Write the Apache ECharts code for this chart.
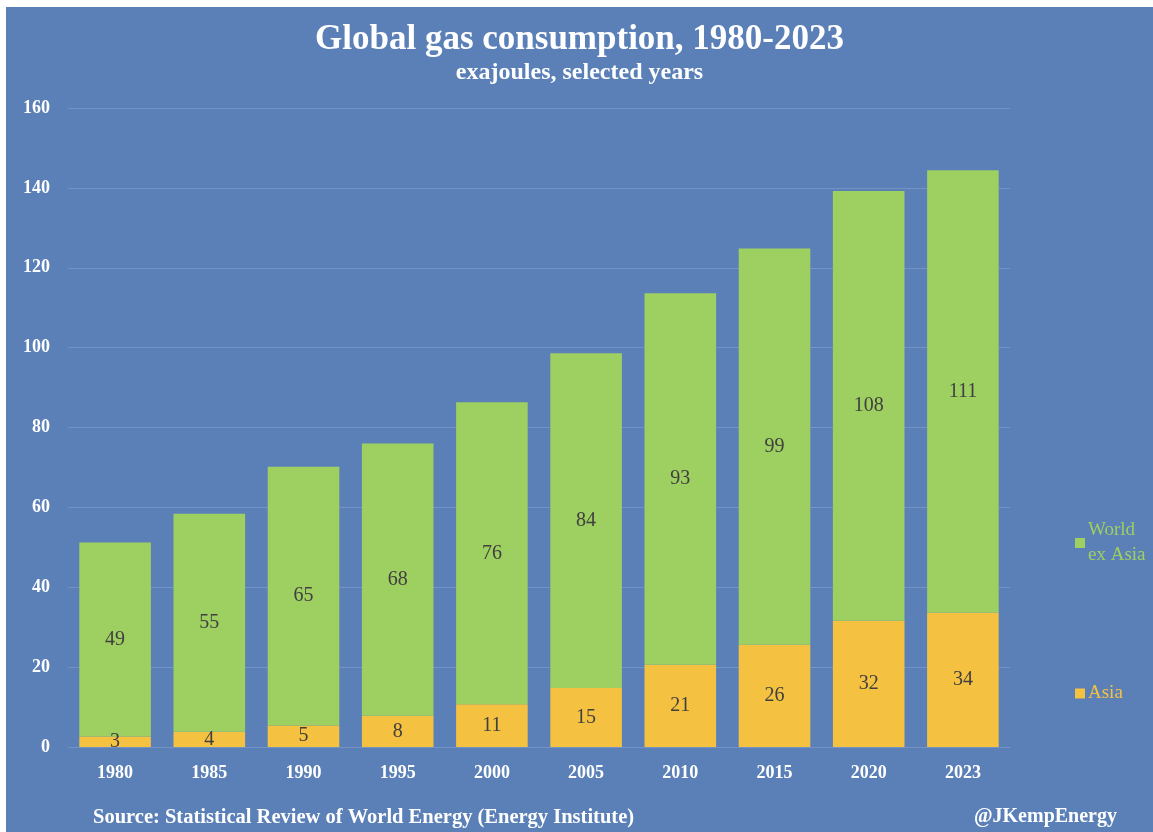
<!DOCTYPE html>
<html>
<head>
<meta charset="utf-8">
<script src="https://cdn.jsdelivr.net/npm/echarts@6/dist/echarts.min.js"></script>
<style>
  html, body { margin: 0; padding: 0; background: #ffffff; }
  #main { position: absolute; left: 6px; top: 7px; width: 1147px; height: 825px; }
</style>
</head>
<body>
<div id="main"></div>
<script>
var years = ['1980', '1985', '1990', '1995', '2000', '2005', '2010', '2015', '2020', '2023']
// exajoules
var asia = [2.6, 3.8, 5.4, 7.8, 10.7, 14.8, 20.6, 25.6, 31.6, 33.6]
var worldExAsia = [48.6, 54.6, 64.8, 68.2, 75.6, 83.8, 93.0, 99.2, 107.6, 110.8]

var serif = '"Liberation Serif", "DejaVu Serif", serif'
var bg = '#5b80b8'
var green = '#9ecf61'
var orange = '#f5c141'

var myChart = echarts.init(document.getElementById('main'))

var labelStyle = {
  show: true,
  position: 'inside',
  color: '#404040',
  fontFamily: serif,
  fontSize: 20,
  formatter: function(p) { return Math.round(p.value) }
}

var option = {
  backgroundColor: bg,
  animation: false,
  title: [{
    text: 'Global gas consumption, 1980-2023',
    subtext: 'exajoules, selected years',
    left: 'center',
    top: 10,
    itemGap: 4,
    textStyle: { color: '#ffffff', fontFamily: serif, fontSize: 35, fontWeight: 'bold' },
    subtextStyle: { color: '#ffffff', fontFamily: serif, fontSize: 24, fontWeight: 'bold' }
  }, {
    text: 'Source: Statistical Review of World Energy (Energy Institute)',
    left: 82,
    top: 795,
    textStyle: { color: '#ffffff', fontFamily: serif, fontSize: 20.5, fontWeight: 'bold' }
  }, {
    text: '@JKempEnergy',
    right: 31,
    top: 795,
    textStyle: { color: '#ffffff', fontFamily: serif, fontSize: 20, fontWeight: 'bold' }
  }],
  legend: [{
    data: ['World ex Asia'],
    orient: 'vertical',
    left: 1064,
    top: 506,
    icon: 'rect',
    itemWidth: 10,
    itemHeight: 10,
    itemGap: 3,
    formatter: function() { return 'World\nex Asia' },
    textStyle: { color: green, fontFamily: serif, fontSize: 19, lineHeight: 25, padding: [0, 0, 0, -2] }
  }, {
    data: ['Asia'],
    orient: 'vertical',
    left: 1064,
    top: 672,
    icon: 'rect',
    itemWidth: 10,
    itemHeight: 10,
    itemGap: 3,
    textStyle: { color: orange, fontFamily: serif, fontSize: 19, padding: [0, 0, 0, -2] }
  }],
  grid: { left: 62, right: 143, top: 101, bottom: 85 },
  xAxis: {
    type: 'category',
    data: years,
    axisTick: { show: false },
    axisLine: { lineStyle: { color: '#7393c4', width: 1 } },
    axisLabel: { color: '#ffffff', fontFamily: serif, fontSize: 18, fontWeight: 'bold', margin: 17 }
  },
  yAxis: {
    type: 'value',
    min: 0,
    max: 160,
    interval: 20,
    axisLabel: { color: '#ffffff', fontFamily: serif, fontSize: 18, fontWeight: 'bold', margin: 18 },
    splitLine: { lineStyle: { color: '#7393c4', width: 1 } }
  },
  series: [{
    name: 'Asia',
    type: 'bar',
    stack: 'total',
    data: asia,
    barWidth: '76%',
    itemStyle: { color: orange },
    label: labelStyle
  }, {
    name: 'World ex Asia',
    type: 'bar',
    stack: 'total',
    data: worldExAsia,
    barWidth: '76%',
    itemStyle: { color: green },
    label: labelStyle
  }]
}

myChart.setOption(option)
</script>
</body>
</html>
